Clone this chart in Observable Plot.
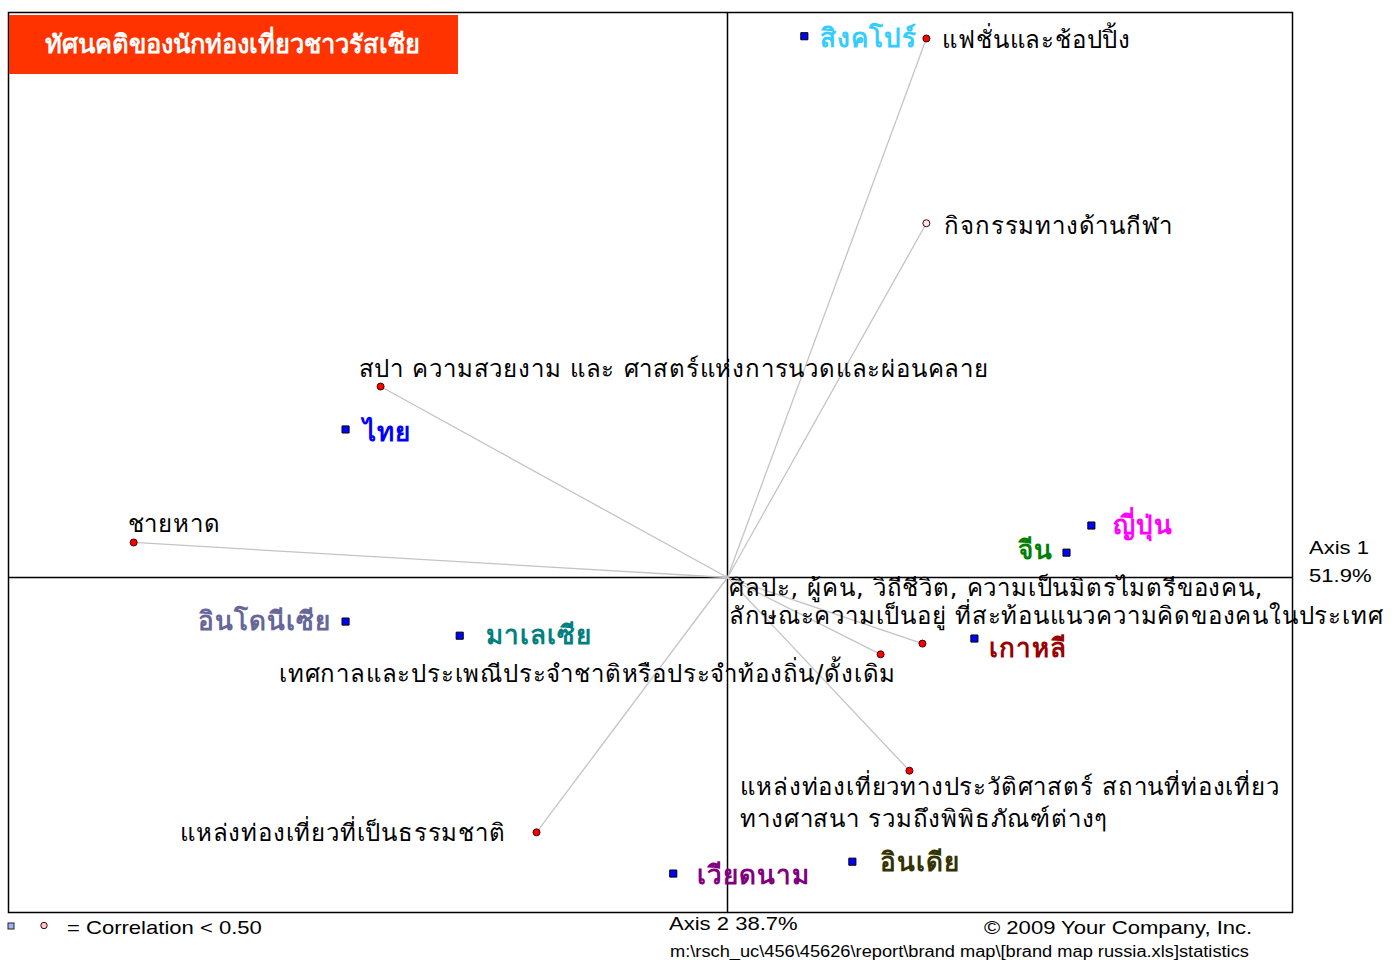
<!DOCTYPE html>
<html>
<head>
<meta charset="utf-8">
<script src="https://cdn.jsdelivr.net/npm/d3@7"></script>
<script src="https://cdn.jsdelivr.net/npm/@observablehq/plot@0.6"></script>
<style>
  html, body { margin: 0; padding: 0; background: #fff; }
  #wrap { position: relative; width: 1397px; height: 960px; overflow: hidden; font-family: "Liberation Sans", Arial, sans-serif; }
  #wrap > svg { position: absolute; left: 0; top: 0; }
  .abs { position: absolute; white-space: nowrap; }
  #title { left: 9px; top: 15px; width: 449px; height: 59px; background: #ff3300; color: #fff;
           font-family: Tahoma, "DejaVu Sans", sans-serif; font-weight: bold; font-size: 25.5px;
           line-height: 59px; padding-left: 36px; box-sizing: border-box; }
  .note { font-size: 19px; color: #000; line-height: 20px; transform: scaleX(1.16); transform-origin: left center; }
  .note.right { transform-origin: right center; }
</style>
</head>
<body>
<div id="wrap"></div>
<script>
// ---- data ----
const countries = ["สิงคโปร์", "ไทย", "ญี่ปุ่น", "จีน", "อินโดนีเซีย", "มาเลเซีย", "เกาหลี", "เวียดนาม", "อินเดีย"];
const countryAxis2 = [13.6, -67.6, 64.4, 60.0, -67.6, -47.4, 43.7, -9.6, 22.1];
const countryAxis1 = [95.8, 26.2, 9.2, 4.4, -7.8, -10.3, -10.8, -52.4, -50.3];

const attributes = [
  "แฟชั่นและช้อปปิ้ง",
  "กิจกรรมทางด้านกีฬา",
  "สปา ความสวยงาม และ ศาสตร์แห่งการนวดและผ่อนคลาย",
  "ชายหาด",
  "ศิลปะ, ผู้คน, วิถีชีวิต, ความเป็นมิตรไมตรีของคน,\nลักษณะความเป็นอยู่ ที่สะท้อนแนวความคิดของคนในประเทศ",
  "เทศกาลและประเพณีประจำชาติหรือประจำท้องถิ่น/ดั้งเดิม",
  "แหล่งท่องเที่ยวทางประวัติศาสตร์ สถานที่ท่องเที่ยว\nทางศาสนา รวมถึงพิพิธภัณฑ์ต่างๆ",
  "แหล่งท่องเที่ยวที่เป็นธรรมชาติ"
];
const attributeAxis2 = [35.2, 35.2, -61.4, -105.1, 34.5, 27.1, 32.2, -33.8];
const attributeAxis1 = [95.4, 62.7, 33.8, 6.2, -11.7, -13.6, -34.2, -45.1];
const attributeLowCorrelation = [false, true, false, false, false, false, false, false];

const axis1Label = ["Axis 1", "51.9%"];
const axis2Label = "Axis 2 38.7%";
const titleText = "ทัศนคติของนักท่องเที่ยวชาวรัสเซีย";
const copyrightText = "© 2009 Your Company, Inc.";
const pathText = "m:\\rsch_uc\\456\\45626\\report\\brand map\\[brand map russia.xls]statistics";
const legendText = "= Correlation < 0.50";

// ---- styles / label layout (not data) ----
const countryStyle = [
  {color: "#33ccff", dx: 16, dy: 2, anchor: "start"},
  {color: "#0000ff", dx: 17, dy: 3, anchor: "start"},
  {color: "#ff00ff", dx: 22, dy: 0, anchor: "start"},
  {color: "#008000", dx: -14, dy: -2, anchor: "end"},
  {color: "#666699", dx: -15, dy: 0, anchor: "end"},
  {color: "#008080", dx: 26, dy: 0, anchor: "start"},
  {color: "#990000", dx: 15, dy: 10, anchor: "start"},
  {color: "#800080", dx: 24, dy: 2, anchor: "start"},
  {color: "#333300", dx: 28, dy: 1, anchor: "start"}
];
const attributeStyle = [
  {dx: 16, dy: 0, anchor: "start", lh: 1.2},
  {dx: 18, dy: 2, anchor: "start", lh: 1.2},
  {dx: -22, dy: -19, anchor: "start", lh: 1.2},
  {dx: -6, dy: -20, anchor: "start", lh: 1.2},
  {dx: -193, dy: -43, anchor: "start", lh: 1.17},
  {dx: -293, dy: 18, anchor: "middle", lh: 1.2},
  {dx: -169, dy: 30, anchor: "start", lh: 1.33},
  {dx: -31, dy: -1, anchor: "end", lh: 1.2}
];

const countryData = countries.map((name, i) => ({name, x: countryAxis2[i], y: countryAxis1[i], i}));
const attributeData = attributes.map((name, i) => ({name, x: attributeAxis2[i], y: attributeAxis1[i], low: attributeLowCorrelation[i], i}));

const thaiFont = "Tahoma, 'DejaVu Sans', 'Noto Sans', sans-serif";

const marks = [
  Plot.frame({stroke: "#000", strokeWidth: 1.5}),
  Plot.ruleX([0], {stroke: "#000", strokeWidth: 1.5}),
  Plot.ruleY([0], {stroke: "#000", strokeWidth: 1.5}),
  Plot.link(attributeData, {x1: () => 0, y1: () => 0, x2: "x", y2: "y", stroke: "#c4c4c4", strokeWidth: 1.3})
];
attributeData.forEach((d, i) => {
  const s = attributeStyle[i];
  marks.push(Plot.text([d], {x: "x", y: "y", text: "name", dx: s.dx, dy: s.dy, textAnchor: s.anchor,
    lineHeight: s.lh, fontSize: 24, fill: "#000", fontFamily: thaiFont}));
});
countryData.forEach((d, i) => {
  const s = countryStyle[i];
  marks.push(Plot.text([d], {x: "x", y: "y", text: "name", dx: s.dx, dy: s.dy, textAnchor: s.anchor,
    fontSize: 26, fontWeight: "bold", fill: s.color, fontFamily: thaiFont}));
});
marks.push(
  Plot.dot(attributeData, {x: "x", y: "y", r: 3.5, fill: d => d.low ? "#ffe8e8" : "#ff0000", stroke: "#400000", strokeWidth: 1}),
  Plot.dot(countryData, {x: "x", y: "y", symbol: "square", r: 4, fill: "#0000ff", stroke: "#000", strokeWidth: 1})
);

const chart = Plot.plot({
  width: 1397,
  height: 960,
  marginLeft: 8,
  marginRight: 105,
  marginTop: 12,
  marginBottom: 48,
  x: {domain: [-719 / 5.65, 100], axis: null},
  y: {domain: [-335 / 5.65, 100], axis: null},
  style: {background: "transparent", overflow: "visible"},
  marks
});

// letter spacing to match the wider label face of the original
d3.select(chart).selectAll("g[aria-label='text']").each(function() {
  const bold = this.getAttribute("font-weight") === "bold";
  this.style.letterSpacing = bold ? "1px" : "0.8px";
});

const wrap = document.getElementById("wrap");
wrap.appendChild(chart);

function addDiv(cls, text, css) {
  const el = document.createElement("div");
  el.className = "abs " + cls;
  el.textContent = text;
  Object.assign(el.style, css);
  wrap.appendChild(el);
  return el;
}
addDiv("", titleText, {}).id = "title";
addDiv("note", axis1Label[0], {left: "1309px", top: "538px"});
addDiv("note", axis1Label[1], {left: "1309px", top: "566px"});
addDiv("note", axis2Label, {left: "669px", top: "914px"});
addDiv("note right", copyrightText, {right: (1397 - 1252) + "px", top: "918px"});
addDiv("note", pathText, {left: "670px", top: "942px", fontSize: "16px", transform: "scaleX(1.14)"});
addDiv("note", legendText, {left: "67px", top: "918px"});
// legend symbols
const leg = document.createElementNS("http://www.w3.org/2000/svg", "svg");
leg.setAttribute("width", "60"); leg.setAttribute("height", "20");
leg.style.position = "absolute"; leg.style.left = "0px"; leg.style.top = "916px";
leg.innerHTML = '<rect x="8" y="7" width="6" height="6" fill="#9fb0ff" stroke="#222" stroke-width="1"/>' +
  '<circle cx="44" cy="9.5" r="3.2" fill="#ffc8c8" stroke="#400" stroke-width="1"/>';
wrap.appendChild(leg);
</script>
</body>
</html>
